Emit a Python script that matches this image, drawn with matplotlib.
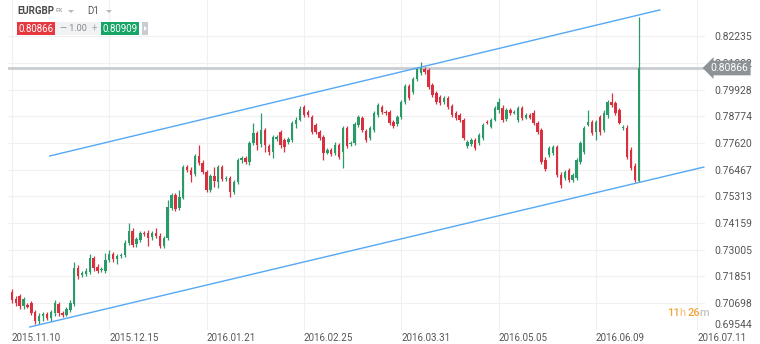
import numpy as np
import matplotlib
matplotlib.use('Agg')
import matplotlib.pyplot as plt
from matplotlib.patches import Rectangle, Polygon

plt.rcParams['font.family'] = ['Roboto', 'DejaVu Sans']

# daily EURGBP candles, 2015.11.10 .. 2016.06.24
opens = [.7118, .7087, .7100, .7057, .7061, .7070, .7031, .6992, .7014, .7023,
         .7005, .7027, .7066, .7027, .7018, .7040, .7066, .7221, .7191, .7195,
         .7204, .7265, .7226, .7213, .7208, .7256, .7282, .7260, .7273, .7278,
         .7330, .7381, .7325, .7343, .7373, .7373, .7356, .7373, .7360, .7317,
         .7351, .7481, .7537, .7481, .7524, .7658, .7645, .7628, .7706, .7676,
         .7637, .7559, .7619, .7594, .7658, .7606, .7611, .7550, .7594, .7689,
         .7697, .7680, .7762, .7806, .7758, .7819, .7749, .7723, .7780, .7810,
         .7775, .7767, .7775, .7845, .7862, .7918, .7897, .7875, .7840, .7810,
         .7788, .7719, .7732, .7719, .7754, .7723, .7827, .7758, .7762, .7840,
         .7871, .7814, .7784, .7819, .7884, .7918, .7897, .7897, .7853, .7845,
         .7875, .7940, .8009, .7983, .8039, .8065, .8082, .8078, .8013, .7979,
         .7962, .7940, .7957, .7922, .7892, .7884, .7862, .7749, .7758, .7775,
         .7762, .7784, .7853, .7832, .7862, .7905, .7914, .7866, .7905, .7892,
         .7862, .7914, .7871, .7884, .7892, .7849, .7819, .7689, .7710, .7719,
         .7745, .7624, .7611, .7645, .7602, .7611, .7680, .7723, .7840, .7853,
         .7810, .7875, .7819, .7884, .7940, .7935, .7905, .7827, .7827, .7732,
         .7663, .7598]
highs = [.7131, .7100, .7109, .7096, .7070, .7079, .7040, .7027, .7031, .7031,
         .7040, .7083, .7074, .7036, .7053, .7083, .7247, .7234, .7208, .7221,
         .7282, .7273, .7239, .7226, .7286, .7299, .7291, .7282, .7286, .7343,
         .7416, .7394, .7356, .7381, .7381, .7386, .7381, .7394, .7373, .7360,
         .7516, .7546, .7546, .7559, .7667, .7667, .7658, .7715, .7754, .7689,
         .7645, .7628, .7658, .7667, .7667, .7619, .7619, .7602, .7697, .7706,
         .7706, .7771, .7849, .7814, .7892, .7827, .7758, .7797, .7797, .7819,
         .7784, .7788, .7858, .7875, .7922, .7927, .7905, .7884, .7849, .7819,
         .7797, .7741, .7741, .7767, .7762, .7836, .7836, .7771, .7853, .7884,
         .7879, .7823, .7836, .7901, .7935, .7927, .7905, .7905, .7862, .7884,
         .7948, .8018, .8018, .8048, .8091, .8113, .8091, .8087, .8022, .7988,
         .7970, .7966, .7966, .7931, .7901, .7892, .7871, .7775, .7784, .7784,
         .7806, .7849, .7862, .7871, .7922, .7957, .7927, .7914, .7914, .7905,
         .7922, .7922, .7892, .7892, .7905, .7858, .7827, .7702, .7749, .7754,
         .7754, .7637, .7645, .7654, .7632, .7697, .7771, .7836, .7905, .7862,
         .7862, .7884, .7905, .7948, .7979, .7944, .7914, .7840, .7840, .7745,
         .7676, .8307]
lows = [.7070, .7057, .7044, .7044, .7049, .7018, .6979, .6979, .6992, .6996,
        .6992, .7014, .7014, .7010, .7014, .7031, .7057, .7174, .7182, .7187,
        .7195, .7208, .7200, .7204, .7200, .7247, .7247, .7239, .7265, .7269,
        .7321, .7312, .7312, .7334, .7360, .7317, .7343, .7351, .7308, .7308,
        .7343, .7472, .7468, .7472, .7520, .7637, .7594, .7619, .7667, .7628,
        .7550, .7550, .7572, .7568, .7598, .7598, .7529, .7542, .7585, .7676,
        .7671, .7667, .7754, .7732, .7745, .7723, .7710, .7697, .7771, .7741,
        .7723, .7758, .7767, .7827, .7858, .7875, .7875, .7801, .7801, .7775,
        .7689, .7715, .7706, .7710, .7693, .7654, .7741, .7749, .7754, .7832,
        .7810, .7767, .7775, .7810, .7875, .7888, .7884, .7840, .7827, .7836,
        .7866, .7931, .7948, .7975, .8031, .8056, .8060, .7996, .7962, .7931,
        .7927, .7931, .7909, .7875, .7862, .7853, .7775, .7741, .7749, .7732,
        .7754, .7775, .7845, .7827, .7858, .7892, .7853, .7858, .7884, .7888,
        .7853, .7862, .7866, .7866, .7840, .7801, .7671, .7641, .7702, .7710,
        .7615, .7568, .7602, .7594, .7594, .7602, .7671, .7715, .7836, .7797,
        .7775, .7797, .7810, .7871, .7918, .7884, .7845, .7819, .7693, .7645,
        .7594, .7594]
closes = [.7083, .7070, .7057, .7087, .7053, .7027, .6992, .7014, .7023, .7005,
          .7031, .7070, .7027, .7018, .7044, .7070, .7221, .7187, .7200, .7208,
          .7265, .7221, .7208, .7215, .7256, .7282, .7260, .7273, .7278, .7330,
          .7381, .7321, .7347, .7373, .7368, .7351, .7373, .7360, .7317, .7351,
          .7485, .7537, .7477, .7529, .7658, .7645, .7624, .7706, .7676, .7637,
          .7559, .7619, .7598, .7658, .7606, .7611, .7550, .7594, .7689, .7697,
          .7680, .7762, .7806, .7754, .7819, .7754, .7723, .7788, .7788, .7754,
          .7745, .7780, .7849, .7862, .7909, .7884, .7884, .7810, .7810, .7784,
          .7719, .7732, .7715, .7754, .7702, .7827, .7749, .7762, .7845, .7875,
          .7819, .7775, .7827, .7892, .7927, .7897, .7892, .7849, .7836, .7875,
          .7940, .8009, .7957, .8039, .8082, .8091, .8069, .8005, .7970, .7940,
          .7935, .7957, .7918, .7884, .7871, .7862, .7784, .7767, .7775, .7741,
          .7797, .7840, .7849, .7862, .7914, .7940, .7862, .7905, .7892, .7897,
          .7914, .7871, .7884, .7871, .7849, .7810, .7680, .7650, .7741, .7745,
          .7624, .7581, .7637, .7602, .7624, .7689, .7762, .7827, .7853, .7806,
          .7853, .7810, .7892, .7940, .7927, .7892, .7849, .7832, .7702, .7654,
          .7602, .80866]

date_pos = [0, 25, 50, 75, 100, 125, 150, 176]
date_labels = ['2015.11.10', '2015.12.15', '2016.01.21', '2016.02.25',
               '2016.03.31', '2016.05.05', '2016.06.09', '2016.07.11']
price_ticks = [0.69544, 0.70698, 0.71851, 0.73005, 0.74159, 0.75313,
               0.76467, 0.77620, 0.78774, 0.79928, 0.81082, 0.82235]
last_price = 0.80866
bid = '0.80866'
ask = '0.80909'
# trend channel (bar index, price)
upper_x, upper_y = [9.7, 166.4], [0.7706, 0.8338]
lower_x, lower_y = [4.6, 177.7], [0.6966, 0.7658]
# countdown pieces: text, colour, gap before it (px)
timer_parts = [('11', '#f5a540', 0), ('h', '#f7c890', 0),
               ('26', '#f5a540', 3.5), ('m', '#c4c4c4', 0)]

GREEN = '#2b9a69'
RED = '#d8303f'
BLUE = '#55a8f5'
TXT = '#555555'

fig = plt.figure(figsize=(7.6, 3.44), dpi=100)
ax = fig.add_axes([8 / 760, 14 / 344, 697 / 760, 330 / 344])

o = np.array(opens)
h = np.array(highs)
l = np.array(lows)
c = np.array(closes)
x = np.arange(len(o))
cols = np.where(c >= o, GREEN, RED)

ax.vlines(x, l, h, colors=cols, lw=0.9, zorder=3)
body_lo = np.minimum(o, c)
body_h = np.maximum(np.abs(c - o), 0.00025)
ax.bar(x, body_h, bottom=body_lo, width=0.62, color=cols, lw=0, zorder=3)

ax.plot(upper_x, upper_y, color=BLUE, lw=1.0, zorder=4)
ax.plot(lower_x, lower_y, color=BLUE, lw=1.0, zorder=4)
ax.axhline(last_price, color='#c9ccd0', lw=2, zorder=2)

ax.set_xlim(-1.0, 178.0)
ax.set_ylim(0.6953, 0.8381)
ax.set_xticks(date_pos)
ax.set_xticklabels(date_labels)
ax.set_yticks(price_ticks)
ax.set_yticklabels(['%.5f' % v for v in price_ticks])
ax.yaxis.tick_right()
ax.grid(color='#f0f0f0', lw=0.8)
ax.set_axisbelow(True)
ax.tick_params(axis='y', length=0, pad=7, labelsize=7.5, labelcolor=TXT)
ax.tick_params(axis='x', length=0, pad=2, labelsize=7, labelcolor=TXT)
for lbl in ax.get_xticklabels():
    lbl.set_ha('left')
ax.get_yticklabels()[0].set_va('bottom')
for s in ax.spines.values():
    s.set_visible(False)

ax.text(1.008, last_price, bid, transform=ax.get_yaxis_transform(),
        ha='left', va='center', color='white', fontsize=7.5, zorder=10,
        clip_on=False,
        bbox=dict(boxstyle='larrow,pad=0.22', fc='#8d9297', ec='none'))

# header and timer overlay, pixel coords
ov = fig.add_axes([0, 0, 1, 1])
ov.set_xlim(0, 760)
ov.set_ylim(344, 0)
ov.axis('off')
ov.patch.set_alpha(0)

ov.text(17, 11, 'EURGBP', fontsize=7, fontweight='bold', color='#4a4a4a', va='center')
ov.text(56, 11, 'FX', fontsize=4.5, fontweight='bold', color='#b0b0b0', va='center')
ov.add_patch(Polygon([[68, 10], [74, 10], [71, 13]], closed=True, fc='#b8b8b8', ec='none'))
ov.text(87, 11, 'D1', fontsize=7, color='#555555', va='center')
ov.add_patch(Polygon([[106, 10], [112, 10], [109, 13]], closed=True, fc='#b8b8b8', ec='none'))

ov.add_patch(Rectangle((55, 22), 46, 13, fc='#f1f2f3', ec='none'))
ov.add_patch(Rectangle((17, 22), 38, 13, fc='#e5393f', ec='none'))
ov.text(36, 28.5, bid, fontsize=7, color='white', ha='center', va='center')
ov.text(60, 28.5, '\u2014 1.00', fontsize=6.5, color='#888888', va='center')
ov.text(94, 28.5, '+', fontsize=7, color='#aaaaaa', ha='center', va='center')
ov.add_patch(Rectangle((101, 22), 38, 13, fc='#16a566', ec='none'))
ov.text(120, 28.5, ask, fontsize=7, color='white', ha='center', va='center')
ov.add_patch(Rectangle((142, 22), 6, 13, fc='#c9ccd0', ec='none'))
ov.add_patch(Polygon([[144, 26], [144, 31], [147, 28.5]], closed=True, fc='white', ec='none'))

# countdown, pieces laid one after another
renderer = fig.canvas.get_renderer()
tx = 667.0
for part, col, gap in timer_parts:
    tx += gap
    t = ov.text(tx, 313, part, fontsize=8, color=col, va='center', ha='left',
                fontweight='medium')
    bb = t.get_window_extent(renderer)
    tx += bb.width - 0.8

fig.savefig('out.png', dpi=100)
